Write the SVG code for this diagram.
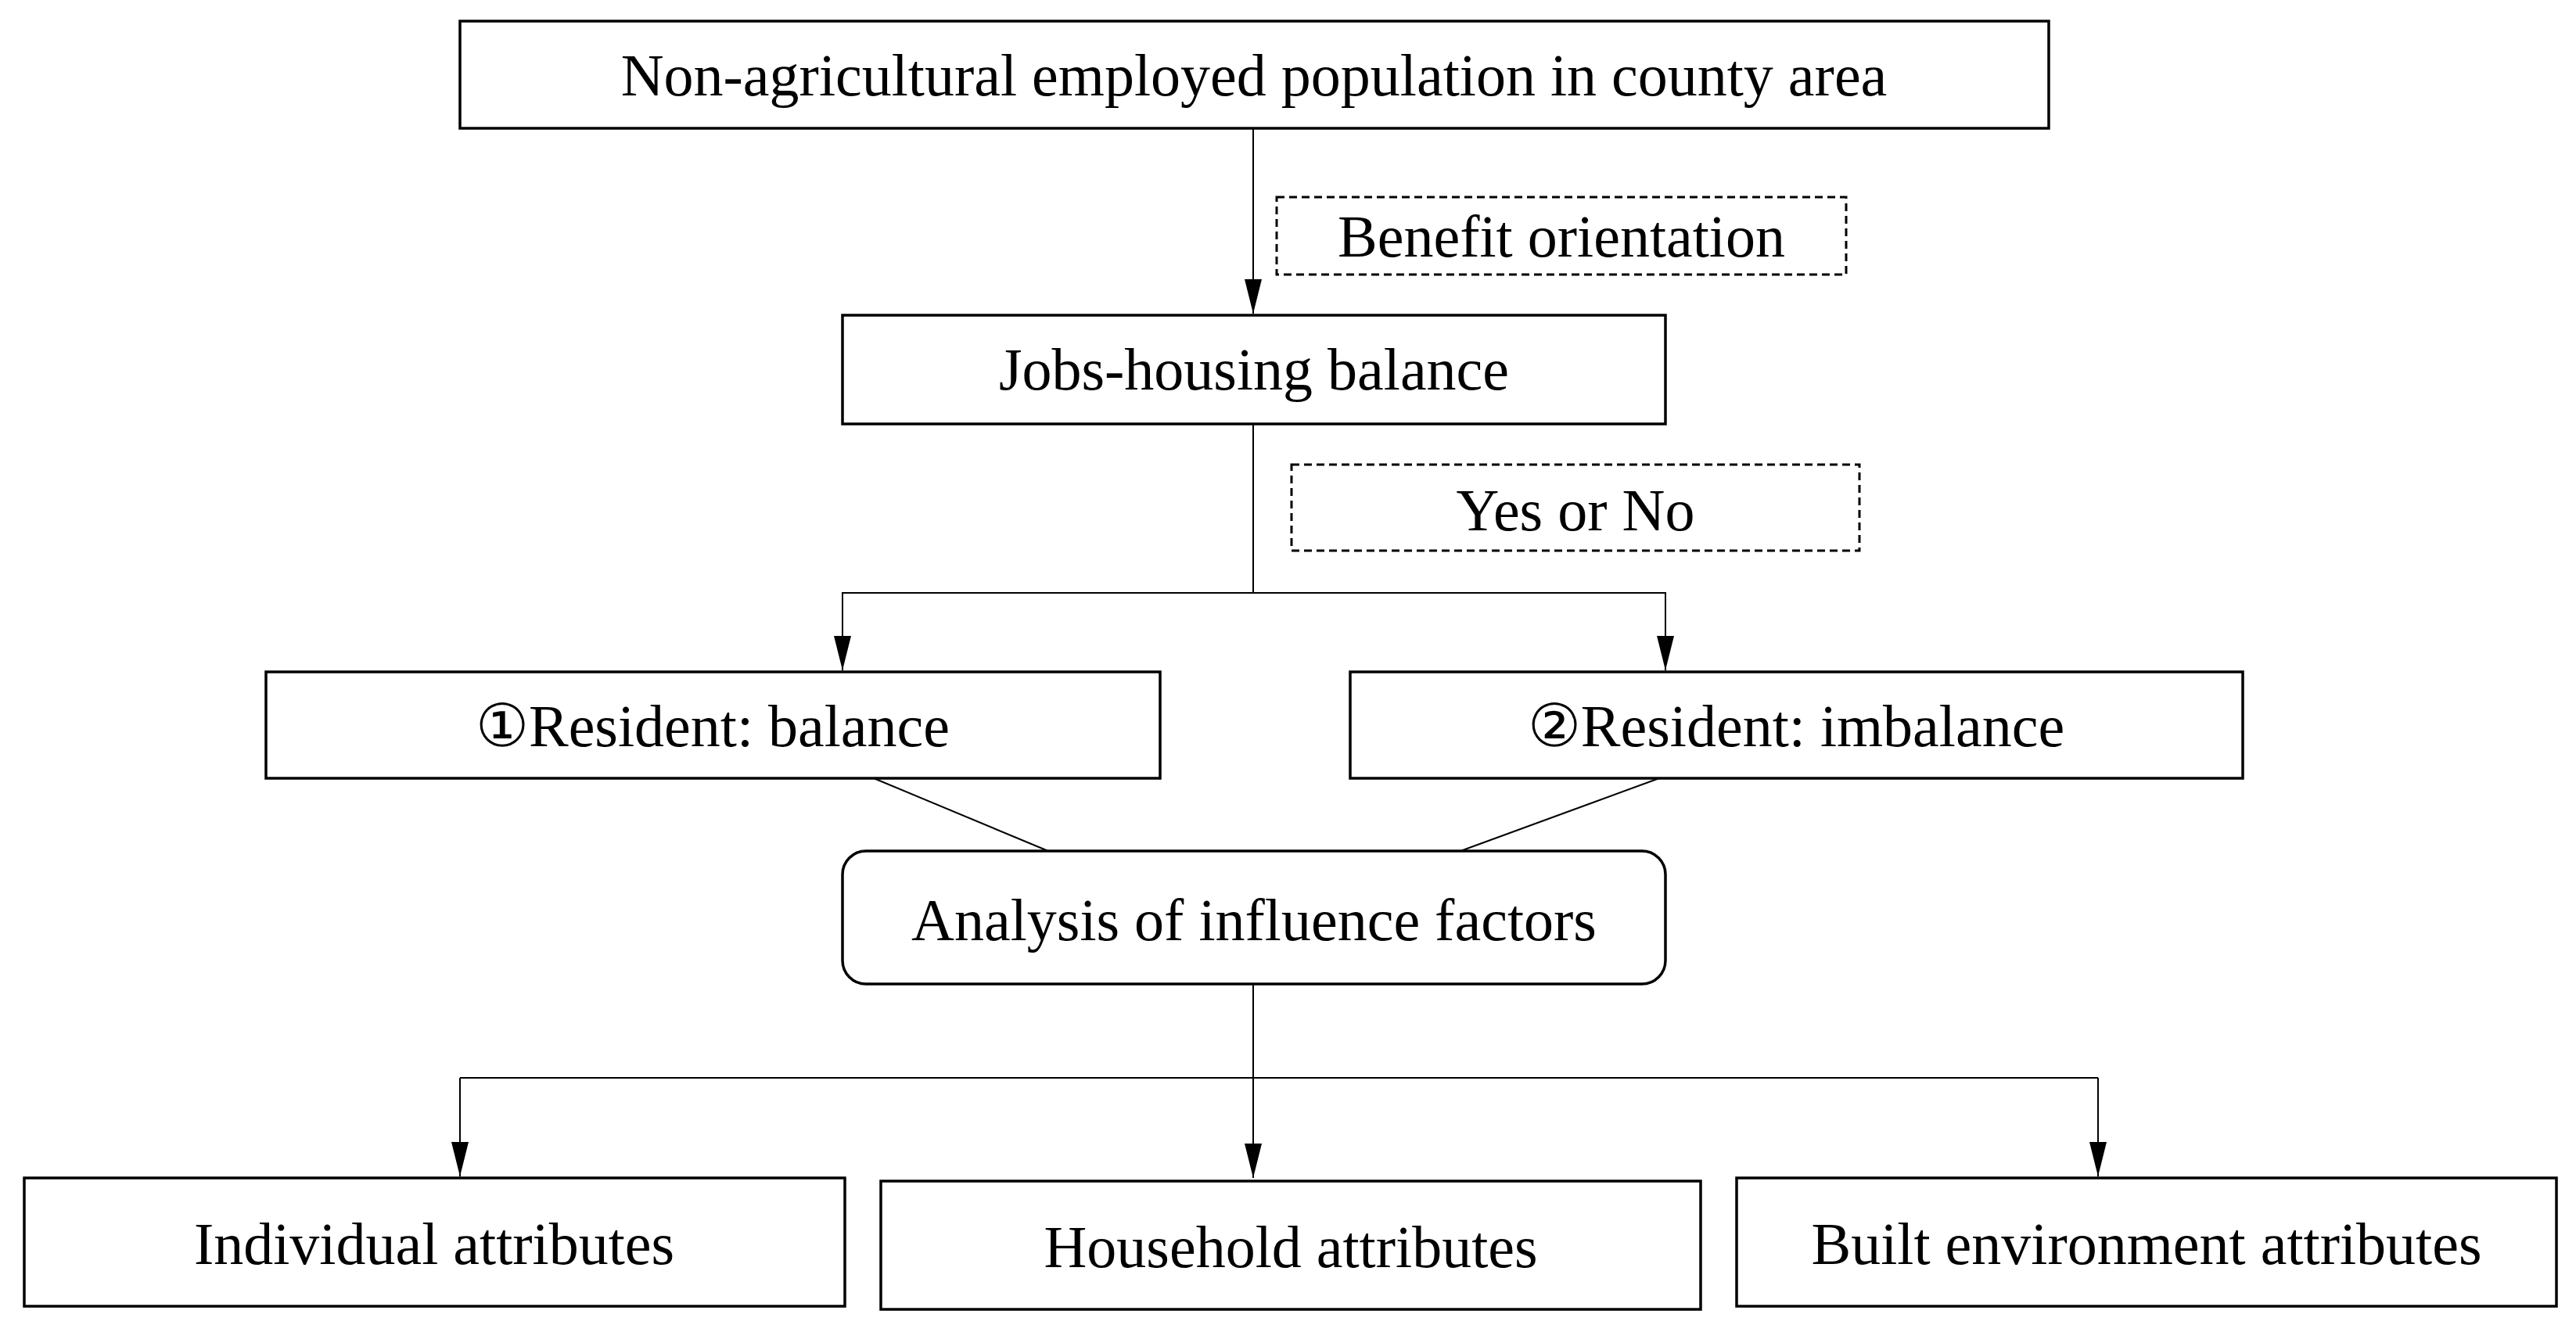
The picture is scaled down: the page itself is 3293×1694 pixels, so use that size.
<svg xmlns="http://www.w3.org/2000/svg" width="3293" height="1694" viewBox="0 0 3293 1694">
<style>
.b{fill:#fff;stroke:#000;stroke-width:3.5}
.d{fill:#fff;stroke:#000;stroke-width:3;stroke-dasharray:10 6}
.c{fill:none;stroke:#000;stroke-width:2}
text{font-family:"Liberation Serif","Times New Roman",serif;font-size:76px;text-anchor:middle;fill:#000}
</style>
<defs>
<marker id="m" markerWidth="44" markerHeight="22" refX="44" refY="11" orient="auto" markerUnits="userSpaceOnUse"><path d="M0,0 L44,11 L0,22 Z" fill="#000"/></marker></defs>
<rect width="3293" height="1694" fill="#fff"/>
<g id="connectors">
<line class="c" x1="1602" y1="164" x2="1602" y2="401" marker-end="url(#m)"/>
<line class="c" x1="1602" y1="542" x2="1602" y2="758"/>
<polyline class="c" points="1077,857 1077,758 2129,758 2129,857" marker-end="url(#m)"/>
<line class="c" x1="1077" y1="758" x2="1077" y2="857" marker-end="url(#m)"/>
<line class="c" x1="1117" y1="995" x2="1340" y2="1088"/>
<line class="c" x1="2121" y1="995" x2="1867" y2="1088"/>
<line class="c" x1="1602" y1="1258" x2="1602" y2="1506" marker-end="url(#m)"/>
<polyline class="c" points="588,1378 2682,1378"/>
<line class="c" x1="588" y1="1378" x2="588" y2="1504" marker-end="url(#m)"/>
<line class="c" x1="2682" y1="1378" x2="2682" y2="1504" marker-end="url(#m)"/>
</g>
<g id="n1"><rect class="b" x="588" y="27" width="2031" height="137"/><text x="1603" y="122">Non-agricultural employed population in county area</text></g>
<g id="l1"><rect class="d" x="1632" y="252" width="728" height="99"/><text x="1996" y="328">Benefit orientation</text></g>
<g id="n2"><rect class="b" x="1077" y="403" width="1052" height="139"/><text x="1603" y="498">Jobs-housing balance</text></g>
<g id="l2"><rect class="d" x="1651" y="594" width="726" height="110"/><text x="2014" y="678">Yes or No</text></g>
<g id="n3"><rect class="b" x="340" y="859" width="1143" height="136"/><text x="911" y="954">①Resident: balance</text></g>
<g id="n4"><rect class="b" x="1726" y="859" width="1141" height="136"/><text x="2296" y="954">②Resident: imbalance</text></g>
<g id="n5"><rect class="b" x="1077" y="1088" width="1052" height="170" rx="30"/><text x="1603" y="1202">Analysis of influence factors</text></g>
<g id="n6"><rect class="b" x="31" y="1506" width="1049" height="164"/><text x="555" y="1616">Individual attributes</text></g>
<g id="n7"><rect class="b" x="1126" y="1510" width="1048" height="164"/><text x="1650" y="1620">Household attributes</text></g>
<g id="n8"><rect class="b" x="2220" y="1506" width="1048" height="164"/><text x="2744" y="1616">Built environment attributes</text></g>
</svg>
